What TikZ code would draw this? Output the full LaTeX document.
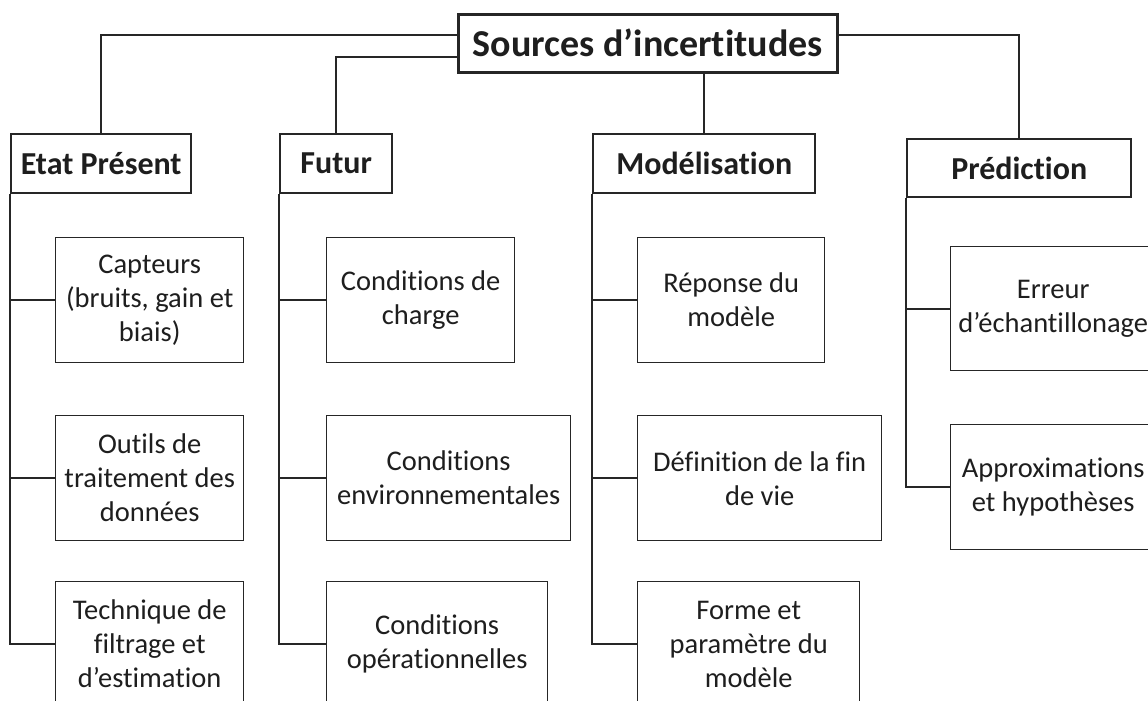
\documentclass[tikz,border=0pt]{standalone}
\usepackage{fontspec}
\setmainfont{Carlito}[Ligatures=NoCommon]
\definecolor{linec}{HTML}{262626}
\definecolor{textc}{HTML}{1E1E1E}
\begin{document}
\begin{tikzpicture}[x=1pt,y=-1pt,
  topbox/.style={draw=linec, line width=2.6pt, fill=white, inner sep=0pt, anchor=north west,
    font=\fontsize{38}{44}\selectfont\bfseries, text=textc},
  catbox/.style={draw=linec, line width=2.4pt, fill=white, inner sep=0pt, anchor=north west,
    font=\fontsize{32}{38}\selectfont\bfseries, text=textc},
  leafbox/.style={draw=linec, line width=1.4pt, fill=white, inner sep=0pt, anchor=north west, align=center,
    font=\fontsize{28.5}{34}\selectfont, text=textc},
  conn/.style={draw=linec, line width=2pt}
]
\useasboundingbox (0,0) rectangle (1148,701);
\clip (0,0) rectangle (1148,701);
\fill[white] (0,0) rectangle (1148,701);

% top
\node[topbox, minimum width=379pt, minimum height=58pt] (src) at (457,13) {Sources d’incertitudes};

% categories
\node[catbox, minimum width=180pt, minimum height=59pt] (etat) at (10,133) {Etat Présent};
\node[catbox, minimum width=112pt, minimum height=59pt] (fut) at (279,133) {Futur};
\node[catbox, minimum width=222pt, minimum height=59pt] (mod) at (592,133) {Modélisation};
\node[catbox, minimum width=224pt, minimum height=58pt] (pred) at (906,138) {Prédiction};

% leaves: Etat Présent
\node[leafbox, minimum width=188pt, minimum height=125pt] (cap) at (55,237) {Capteurs\\(bruits, gain et\\biais)};
\node[leafbox, minimum width=188pt, minimum height=125pt] (out) at (55,415) {Outils de\\traitement des\\données};
\node[leafbox, minimum width=188pt, minimum height=125pt] (tec) at (55,581) {Technique de\\filtrage et\\d’estimation};

% leaves: Futur
\node[leafbox, minimum width=188pt, minimum height=125pt] (cha) at (326,237) {Conditions de\\charge};
\node[leafbox, minimum width=244pt, minimum height=125pt] (env) at (326,415) {Conditions\\environnementales};
\node[leafbox, minimum width=221pt, minimum height=125pt] (ope) at (326,581) {Conditions\\opérationnelles};

% leaves: Modelisation
\node[leafbox, minimum width=187pt, minimum height=125pt] (rep) at (637,237) {Réponse du\\modèle};
\node[leafbox, minimum width=244pt, minimum height=125pt] (def) at (637,415) {Définition de la fin\\de vie};
\node[leafbox, minimum width=222pt, minimum height=125pt] (for) at (637,581) {Forme et\\paramètre du\\modèle};

% leaves: Prediction
\node[leafbox, minimum width=205pt, minimum height=124pt] (err) at (950,246) {Erreur\\d’échantillonage};
\node[leafbox, minimum width=205pt, minimum height=125pt] (app) at (950,424) {Approximations\\et hypothèses};

% connectors from top
\draw[conn] (src.north west) ++(0,22) -| (etat.north);
\draw[conn] (src.north west) ++(0,44) -| (fut.north);
\draw[conn] (mod.north) -- (mod.north |- src.south);
\draw[conn] (src.north east) ++(0,22) -| (pred.north);

% spines
\draw[conn] (etat.south west) -- (etat.south west |- tec.west) -- (tec.west);
\draw[conn] (etat.south west |- cap.west) -- (cap.west);
\draw[conn] (etat.south west |- out.west) -- (out.west);

\draw[conn] (fut.south west) -- (fut.south west |- ope.west) -- (ope.west);
\draw[conn] (fut.south west |- cha.west) -- (cha.west);
\draw[conn] (fut.south west |- env.west) -- (env.west);

\draw[conn] (mod.south west) -- (mod.south west |- for.west) -- (for.west);
\draw[conn] (mod.south west |- rep.west) -- (rep.west);
\draw[conn] (mod.south west |- def.west) -- (def.west);

\draw[conn] (pred.south west) -- (pred.south west |- app.west) -- (app.west);
\draw[conn] (pred.south west |- err.west) -- (err.west);
\end{tikzpicture}
\end{document}
